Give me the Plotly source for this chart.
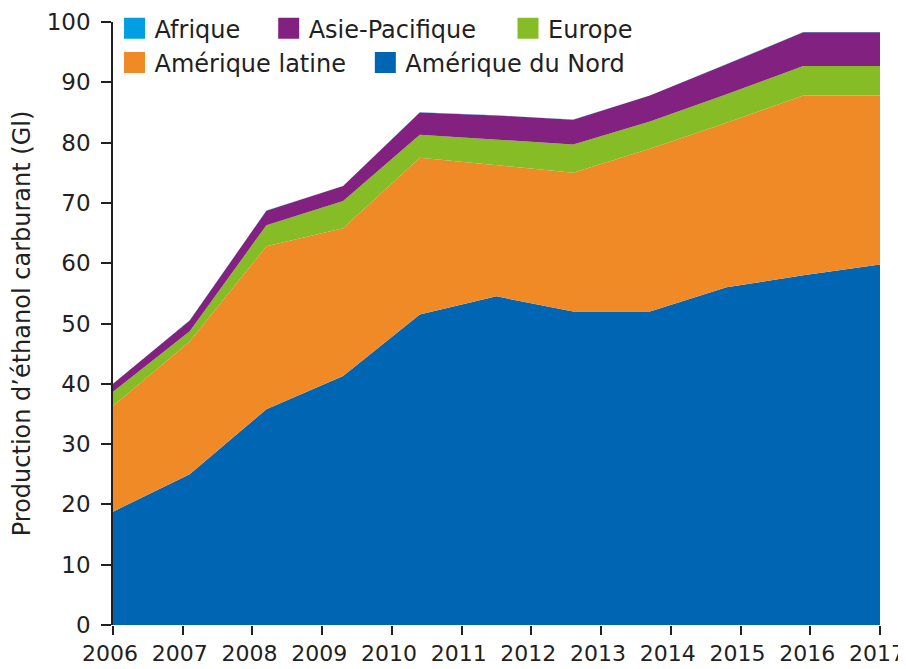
import plotly.graph_objects as go

# x positions of the data points (years)
years = [2006.0, 2007.1, 2008.2, 2009.3, 2010.4, 2011.5, 2012.6, 2013.7, 2014.8, 2015.9, 2017.0]

amerique_nord = [18.8, 25.0, 35.8, 41.3, 51.5, 54.5, 52.0, 52.0, 56.0, 58.0, 59.8]
amerique_latine = [17.5, 22.0, 27.0, 24.5, 26.0, 21.8, 23.0, 27.0, 27.3, 29.8, 28.0]
europe = [2.4, 1.7, 3.5, 4.5, 3.8, 4.2, 4.7, 4.5, 4.7, 4.9, 4.9]
asie_pacifique = [1.3, 1.8, 2.4, 2.5, 3.7, 4.0, 4.1, 4.3, 5.0, 5.6, 5.6]
afrique = [0.02, 0.02, 0.02, 0.02, 0.03, 0.03, 0.03, 0.03, 0.03, 0.03, 0.03]

tick_years = [2006, 2007, 2008, 2009, 2010, 2011, 2012, 2013, 2014, 2015, 2016, 2017]
y_ticks = [0, 10, 20, 30, 40, 50, 60, 70, 80, 90, 100]

colors = {
    "Amérique du Nord": "#0066b3",
    "Amérique latine": "#ef8a27",
    "Europe": "#86bc25",
    "Asie-Pacifique": "#82217f",
    "Afrique": "#009fe3",
}

FONT = "DejaVu Sans"
INK = "#231f20"
fig = go.Figure()

# stacked areas (bottom to top)
for name, vals in [("Amérique du Nord", amerique_nord),
                   ("Amérique latine", amerique_latine),
                   ("Europe", europe),
                   ("Asie-Pacifique", asie_pacifique),
                   ("Afrique", afrique)]:
    fig.add_trace(go.Scatter(
        x=years, y=vals, name=name, mode="lines",
        line=dict(width=0, color=colors[name]),
        fillcolor=colors[name], stackgroup="one",
        showlegend=False, hoverinfo="skip"))

# legend entries (square swatches), each in its own legend box
legend_items = [("Afrique", "legend"), ("Asie-Pacifique", "legend2"),
                ("Europe", "legend3"), ("Amérique latine", "legend4"),
                ("Amérique du Nord", "legend5")]
for name, lg in legend_items:
    fig.add_trace(go.Scatter(
        x=[None], y=[None], mode="markers", name=name,
        marker=dict(symbol="square", size=16, color=colors[name],
                    line=dict(width=5, color=colors[name])),
        legend=lg, showlegend=True))

def leg(x, y):
    return dict(x=x, y=y, xanchor="left", yanchor="middle",
                orientation="h", bgcolor="rgba(0,0,0,0)",
                font=dict(family=FONT, size=24, color=INK))

# the page adds an 8px body margin, so the figure is 898x661
fig.update_layout(
    width=898, height=661,
    margin=dict(l=105, r=26, t=14, b=44, autoexpand=False),
    paper_bgcolor="white", plot_bgcolor="white",
    font=dict(family=FONT, color=INK),
    legend=leg(0.002, 0.989),
    legend2=leg(0.203, 0.989),
    legend3=leg(0.515, 0.989),
    legend4=leg(0.002, 0.932),
    legend5=leg(0.329, 0.932),
    xaxis=dict(range=[2006, 2017], tickvals=tick_years,
               ticktext=[str(t) for t in tick_years],
               ticks="outside", ticklen=9, tickcolor=INK, tickwidth=1.5,
               showline=False, showgrid=False, zeroline=False,
               ticklabeloverflow="allow", ticklabelshift=-3,
               tickfont=dict(family=FONT, size=22, color=INK)),
    yaxis=dict(range=[0, 100], tickvals=y_ticks,
               ticks="outside", ticklen=10, tickcolor=INK, tickwidth=1.5,
               showline=True, linecolor=INK, linewidth=1.5,
               showgrid=False, zeroline=False,
               ticklabelstandoff=6,
               tickfont=dict(family=FONT, size=23, color=INK),
               title=dict(text="Production d’éthanol carburant (Gl)",
                          font=dict(family=FONT, size=24, color=INK),
                          standoff=10)),
)

fig.write_html("out.html")
